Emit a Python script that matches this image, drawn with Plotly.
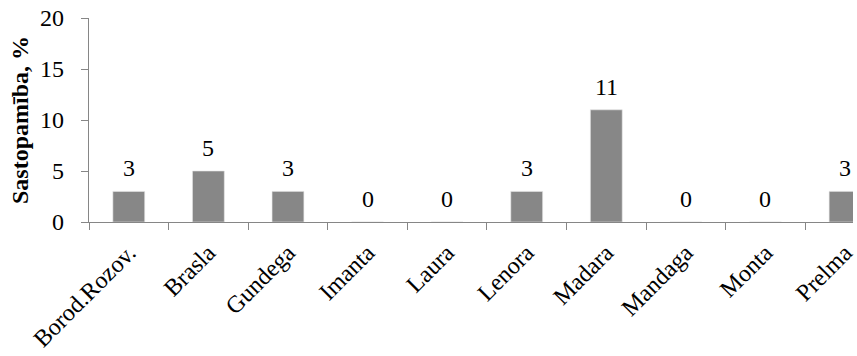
import plotly.graph_objects as go

# Varieties and their occurrence, %
varieties = ["Borod.Rozov.", "Brasla", "Gundega", "Imanta", "Laura",
             "Lenora", "Madara", "Mandaga", "Monta", "Prelma"]
occurrence = [3, 5, 3, 0, 0, 3, 11, 0, 0, 3]
y_ticks = [0, 5, 10, 15, 20]

FONT = "Liberation Serif, Times New Roman, serif"
AXIS_GREY = "#868686"
BAR_GREY = "#878787"
FS = 24

fig = go.Figure(
    go.Bar(
        x=varieties,
        y=occurrence,
        width=0.4,
        marker=dict(color=BAR_GREY, line=dict(color="#e6e6e6", width=0.6)),
        hoverinfo="x+y",
    )
)

# Value labels above each bar
for name, val in zip(varieties, occurrence):
    fig.add_annotation(
        x=name, y=val, text=str(val), showarrow=False,
        yanchor="bottom", yshift=8,
        font=dict(family=FONT, size=FS, color="black"),
    )

fig.update_layout(
    width=857, height=356,
    margin=dict(l=89, r=0, t=18, b=134),
    plot_bgcolor="white", paper_bgcolor="white",
    showlegend=False,
    font=dict(family=FONT, size=FS, color="black"),
)

fig.update_xaxes(
    type="category",
    range=[-0.5, 9.1],
    showline=True, linecolor=AXIS_GREY, linewidth=1.3,
    ticks="outside", tickson="boundaries", ticklen=7,
    tickcolor=AXIS_GREY, tickwidth=1,
    tickangle=-45,
    ticklabelstandoff=6,
    tickfont=dict(family=FONT, size=FS, color="black"),
    showgrid=False, zeroline=False,
)

fig.update_yaxes(
    range=[0, 20],
    tickvals=y_ticks,
    showline=True, linecolor=AXIS_GREY, linewidth=1.3,
    ticks="outside", ticklen=7, tickcolor=AXIS_GREY, tickwidth=1,
    ticklabelstandoff=12,
    tickfont=dict(family=FONT, size=FS, color="black"),
    showgrid=False, zeroline=False,
    title=dict(text="<b>Sastopamība, %</b>", standoff=4,
               font=dict(family=FONT, size=FS, color="black")),
)

fig.write_html("out.html")
